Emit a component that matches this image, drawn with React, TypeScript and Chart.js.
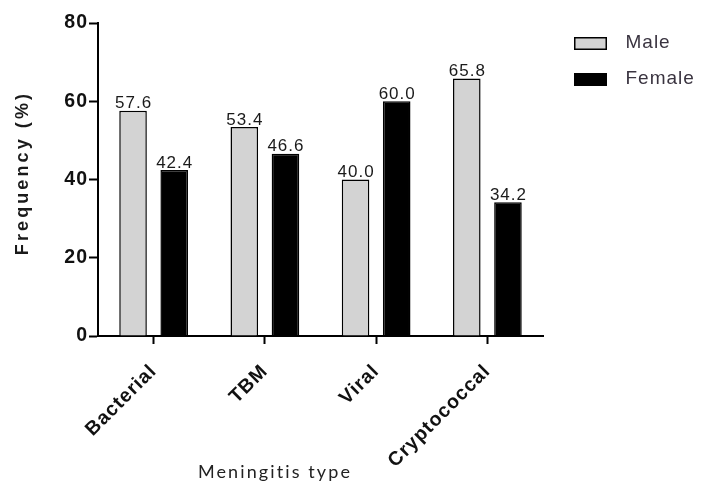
import React, { useEffect, useRef } from "react";
import { Chart, registerables } from "chart.js";

Chart.register(...registerables);

const categories = ["Bacterial", "TBM", "Viral", "Cryptococcal"];
const maleValues = [57.6, 53.4, 40.0, 65.8];
const femaleValues = [42.4, 46.6, 60.0, 34.2];
const seriesNames = ["Male", "Female"];
const seriesFills = ["#d3d3d3", "#000000"];
const yMin = 0;
const yMax = 80;
const yStep = 20;
const yTitle = "Frequency (%)";
const xTitle = "Meningitis type";

const FONT = '"Liberation Sans", Arial, sans-serif';

function makeSwatch(fill: string): HTMLCanvasElement {
  const c = document.createElement("canvas");
  c.width = 38;
  c.height = 14;
  const g = c.getContext("2d")!;
  g.fillStyle = fill;
  g.fillRect(5, 1, 33, 13);
  g.strokeStyle = "#000";
  g.lineWidth = 1.5;
  g.strokeRect(5.75, 1.75, 31.5, 11.5);
  return c;
}

const decor = {
  id: "decor",
  beforeUpdate(chart: any) {
    chart.ctx.letterSpacing = "1px";
  },
  beforeDraw(chart: any) {
    chart.ctx.letterSpacing = "1px";
  },
  afterLayout(chart: any) {
    const lg = chart.legend;
    if (lg) {
      lg.top -= 6.5;
      lg.bottom -= 6.5;
    }
  },
  afterDatasetsDraw(chart: any) {
    const ctx = chart.ctx;
    ctx.save();
    ctx.letterSpacing = "1px";
    ctx.font = `17px ${FONT}`;
    ctx.fillStyle = "#1a1a1a";
    ctx.textAlign = "center";
    ctx.textBaseline = "alphabetic";
    chart.data.datasets.forEach((ds: any, i: number) => {
      const meta = chart.getDatasetMeta(i);
      meta.data.forEach((bar: any, j: number) => {
        const v = ds.data[j] as number;
        ctx.fillText(v.toFixed(1), bar.x + 0.5, bar.y - 2.5);
      });
    });
    ctx.restore();
  },
  afterDraw(chart: any) {
    const ctx = chart.ctx;
    ctx.save();
    ctx.letterSpacing = "3.1px";
    ctx.font = `bold 18px ${FONT}`;
    ctx.fillStyle = "#1a1a1a";
    ctx.textAlign = "center";
    ctx.textBaseline = "alphabetic";
    ctx.translate(28, 173);
    ctx.rotate(-Math.PI / 2);
    ctx.fillText(yTitle, 0, 0);
    ctx.restore();
    ctx.save();
    ctx.letterSpacing = "2.1px";
    ctx.font = `18px Lato, "Open Sans", sans-serif`;
    ctx.fillStyle = "#222";
    ctx.textAlign = "center";
    ctx.textBaseline = "alphabetic";
    ctx.fillText(xTitle, 275, 478);
    ctx.restore();
  },
};

export default function App() {
  const ref = useRef<HTMLCanvasElement | null>(null);

  useEffect(() => {
    let chart: Chart | null = null;
    let cancelled = false;
    const loads = [
      'bold 20px "Liberation Sans"',
      '20px "Liberation Sans"',
      "18px Lato",
    ].map((f) => (document as any).fonts.load(f).catch(() => null));
    Promise.all(loads).then(() => {
      if (cancelled || !ref.current) return;
      const swatches = seriesFills.map((f) => makeSwatch(f));
      chart = new Chart(ref.current, {
        type: "bar",
        data: {
          labels: categories,
          datasets: [
            {
              label: seriesNames[0],
              data: maleValues,
              backgroundColor: seriesFills[0],
              borderColor: "#000",
              borderWidth: 1.5,
              categoryPercentage: 0.74,
              barPercentage: 0.67,
            },
            {
              label: seriesNames[1],
              data: femaleValues,
              backgroundColor: seriesFills[1],
              borderColor: "#000",
              borderWidth: 1.5,
              categoryPercentage: 0.74,
              barPercentage: 0.67,
            },
          ],
        },
        options: {
          responsive: false,
          animation: false,
          layout: { padding: { left: 0, top: 23, right: 0, bottom: 0 } },
          plugins: {
            tooltip: { enabled: false },
            legend: {
              position: "right",
              align: "start",
              maxWidth: 158,
              labels: {
                usePointStyle: true,
                pointStyleWidth: 56,
                padding: 17,
                color: "#3a3440",
                font: { size: 19, family: FONT },
                generateLabels: (c: any) => {
                  const base = Chart.defaults.plugins.legend.labels.generateLabels(c);
                  return base.map((it: any, i: number) => ({ ...it, pointStyle: swatches[i] }));
                },
              },
            },
          },
          scales: {
            x: {
              offset: true,
              grid: {
                display: true,
                drawOnChartArea: false,
                drawTicks: true,
                offset: false,
                tickLength: 8,
                tickWidth: 2,
                tickColor: "#000",
                color: "#000",
              },
              border: { display: true, color: "#000", width: 2 },
              ticks: {
                autoSkip: false,
                maxRotation: 45,
                minRotation: 45,
                padding: 16,
                color: "#111",
                font: { size: 19.5, weight: "bold", family: FONT },
              },
              afterFit: (s: any) => {
                s.height = 159;
              },
            },
            y: {
              min: yMin,
              max: yMax,
              grid: {
                display: true,
                drawOnChartArea: false,
                drawTicks: true,
                tickLength: 9,
                tickWidth: 2,
                tickColor: "#000",
                color: "#000",
              },
              border: { display: true, color: "#000", width: 2 },
              ticks: {
                stepSize: yStep,
                padding: 1,
                color: "#111",
                font: { size: 19.5, weight: "bold", family: FONT },
              },
              afterFit: (s: any) => {
                s.width = 98;
              },
            },
          },
        },
        plugins: [decor],
      } as any);
    });
    return () => {
      cancelled = true;
      if (chart) chart.destroy();
    };
  }, []);

  return (
    <div style={{ position: "fixed", left: 0, top: 0, width: 701, height: 495, background: "#fff" }}>
      <canvas ref={ref} width={701} height={495} style={{ display: "block", width: 701, height: 495 }} />
    </div>
  );
}
